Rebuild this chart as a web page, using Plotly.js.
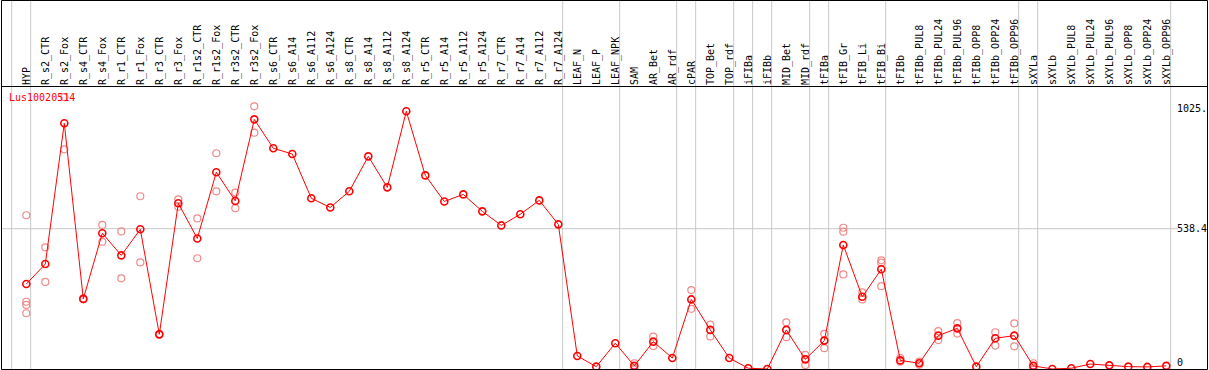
<!DOCTYPE html>
<html><head><meta charset="utf-8">
<script src="https://cdn.plot.ly/plotly-3.0.1.min.js"></script>
<style>html,body{margin:0;padding:0;background:#fff;overflow:hidden}#chart{width:1209px;height:370px}</style>
</head><body><div id="chart"></div>
<script>
const geneId = 'Lus10020514';
const categories = ['HYP','R_s2_CTR','R_s2_Fox','R_s4_CTR','R_s4_Fox','R_r1_CTR','R_r1_Fox','R_r3_CTR','R_r3_Fox',
  'R_r1s2_CTR','R_r1s2_Fox','R_r3s2_CTR','R_r3s2_Fox','R_s6_CTR','R_s6_A14','R_s6_A112','R_s6_A124',
  'R_s8_CTR','R_s8_A14','R_s8_A112','R_s8_A124','R_r5_CTR','R_r5_A14','R_r5_A112','R_r5_A124',
  'R_r7_CTR','R_r7_A14','R_r7_A112','R_r7_A124','LEAF_N','LEAF_P','LEAF_NPK','SAM','AR_Bet','AR_rdf',
  'cPAR','TOP_Bet','TOP_rdf','iFIBa','iFIBb','MID_Bet','MID_rdf','tFIBa','tFIB_Gr','tFIB_Li','tFIB_Bi',
  'tFIBb','tFIBb_PUL8','tFIBb_PUL24','tFIBb_PUL96','tFIBb_OPP8','tFIBb_OPP24','tFIBb_OPP96',
  'sXYLa','sXYLb','sXYLb_PUL8','sXYLb_PUL24','sXYLb_PUL96','sXYLb_OPP8','sXYLb_OPP24','sXYLb_OPP96'];
const meanValues = [326,403,943,269,521,436,536,133,636,
  501,755,645,958,847,825,655,620,
  682,816,697,989,743,643,670,605,
  551,594,647,555,50,9,99,12,105,42,
  267,150,42,3,0,150,37,109,476,277,383,
  33,22,128,156,9,118,128,
  12,0,3,19,14,9,8,12];
const replicateValues = [[590,258,246,214],[467,334],[1043,843],[270,268],[553,488],[528,348],[663,409],[134,132],[651,623],
  [578,425],[828,682],[677,617],[1008,907],[],[],[],[],
  [],[],[],[],[],[],[],[],
  [],[],[],[],[],[],[],[22,3],[124,88],[],
  [303,231],[170,125],[],[],[],[179,122],[54,15],[135,80],[542,527,363],[294,267],[417,408,318],
  [42,28],[28,16],[145,111],[176,136],[],[141,90],[175,87],
  [22,3],[],[],[],[],[],[],[]];
const groupStart = -1;
const groupEnds = ['HYP','R_r7_A124','LEAF_NPK','AR_rdf','cPAR','TOP_rdf','iFIBa','iFIBb','MID_rdf','tFIBa','tFIB_Bi','tFIBb_OPP96','sXYLa','sXYLb_OPP96'];
const yTickVals = [0, 538.4, 1025];
const yTickText = ['0', '538.4', '1025.'];
const gridTickVal = 538.4;

const W = 1209, H = 370;
const M = {l: 1, r: 1, t: 86, b: 1};
const PW = W - M.l - M.r, PH = H - M.t - M.b;
const px2fx = p => (p - M.l) / PW;
const py2fy = p => (H - M.b - p) / PH;
const FONT = 'DejaVu Sans Mono';
const GRID = '#c8c8c8';

const idx = categories.map((_, i) => i);
const repX = [], repY = [];
replicateValues.forEach((arr, i) => arr.forEach(v => { repX.push(i); repY.push(v); }));

const traces = [
  {x: repX, y: repY, type: 'scatter', mode: 'markers', hoverinfo: 'skip',
   marker: {symbol: 'circle-open', size: 7, color: '#f08a8a', line: {width: 1.2, color: '#f08a8a'}}},
  {x: idx, y: meanValues, type: 'scatter', mode: 'lines+markers',
   line: {color: '#ff0000', width: 1},
   marker: {symbol: 'circle-open', size: 7, color: '#ff0000', line: {width: 1.6, color: '#ff0000'}}}
];

const lineOffset = 0.23;
const shapes = [];
[groupStart].concat(groupEnds.map(n => categories.indexOf(n))).forEach(g => {
  shapes.push({type: 'line', xref: 'x', yref: 'paper', x0: g + lineOffset, x1: g + lineOffset,
    y0: py2fy(369.5), y1: py2fy(0), line: {color: GRID, width: 1}, layer: 'below'});
});
shapes.push({type: 'line', xref: 'paper', yref: 'y', x0: px2fx(1), x1: px2fx(1178), y0: gridTickVal, y1: gridTickVal,
  line: {color: GRID, width: 1}, layer: 'below'});
shapes.push({type: 'rect', xref: 'paper', yref: 'paper', x0: px2fx(1.5), x1: px2fx(1207.5), y0: py2fy(369.5), y1: py2fy(0.5),
  line: {color: '#000', width: 1}, fillcolor: 'rgba(0,0,0,0)', layer: 'above'});
shapes.push({type: 'line', xref: 'paper', yref: 'paper', x0: px2fx(1.5), x1: px2fx(1207.5), y0: py2fy(86.5), y1: py2fy(86.5),
  line: {color: '#000', width: 1}, layer: 'above'});

const annotations = yTickVals.map((v, i) => ({
  xref: 'paper', yref: 'y', x: px2fx(1176), y: v, xanchor: 'left',
  yanchor: i === yTickVals.length - 1 ? 'top' : (i === 0 ? 'bottom' : 'middle'),
  text: yTickText[i], showarrow: false, borderpad: 0,
  font: {family: FONT, size: 10, color: '#000'}
}));

const xmin = (M.l - 26.3) / 19, xmax = (W - M.r - 26.3) / 19;

const layout = {
  width: W, height: H, margin: {l: M.l, r: M.r, t: M.t, b: M.b, pad: 0},
  paper_bgcolor: '#fff', plot_bgcolor: '#fff', showlegend: false,
  title: {text: geneId, font: {family: FONT, size: 10, color: '#ff0000'},
    xref: 'container', yref: 'container', x: 9 / W, xanchor: 'left', y: 1 - 97 / H, yanchor: 'middle', pad: {t: 0, b: 0, l: 0, r: 0}},
  xaxis: {type: 'linear', range: [xmin, xmax], side: 'top', tickmode: 'array', tickvals: idx, ticktext: categories,
    tickangle: -90, tickfont: {family: FONT, size: 10, color: '#000'}, showgrid: false, zeroline: false,
    showline: false, ticks: '', fixedrange: true, automargin: false},
  yaxis: {range: [0, 1086], showgrid: false, zeroline: false, showline: false, ticks: '', showticklabels: false,
    fixedrange: true, automargin: false},
  shapes: shapes, annotations: annotations
};

Plotly.newPlot('chart', traces, layout, {displayModeBar: false, staticPlot: true});
</script>
</body></html>
